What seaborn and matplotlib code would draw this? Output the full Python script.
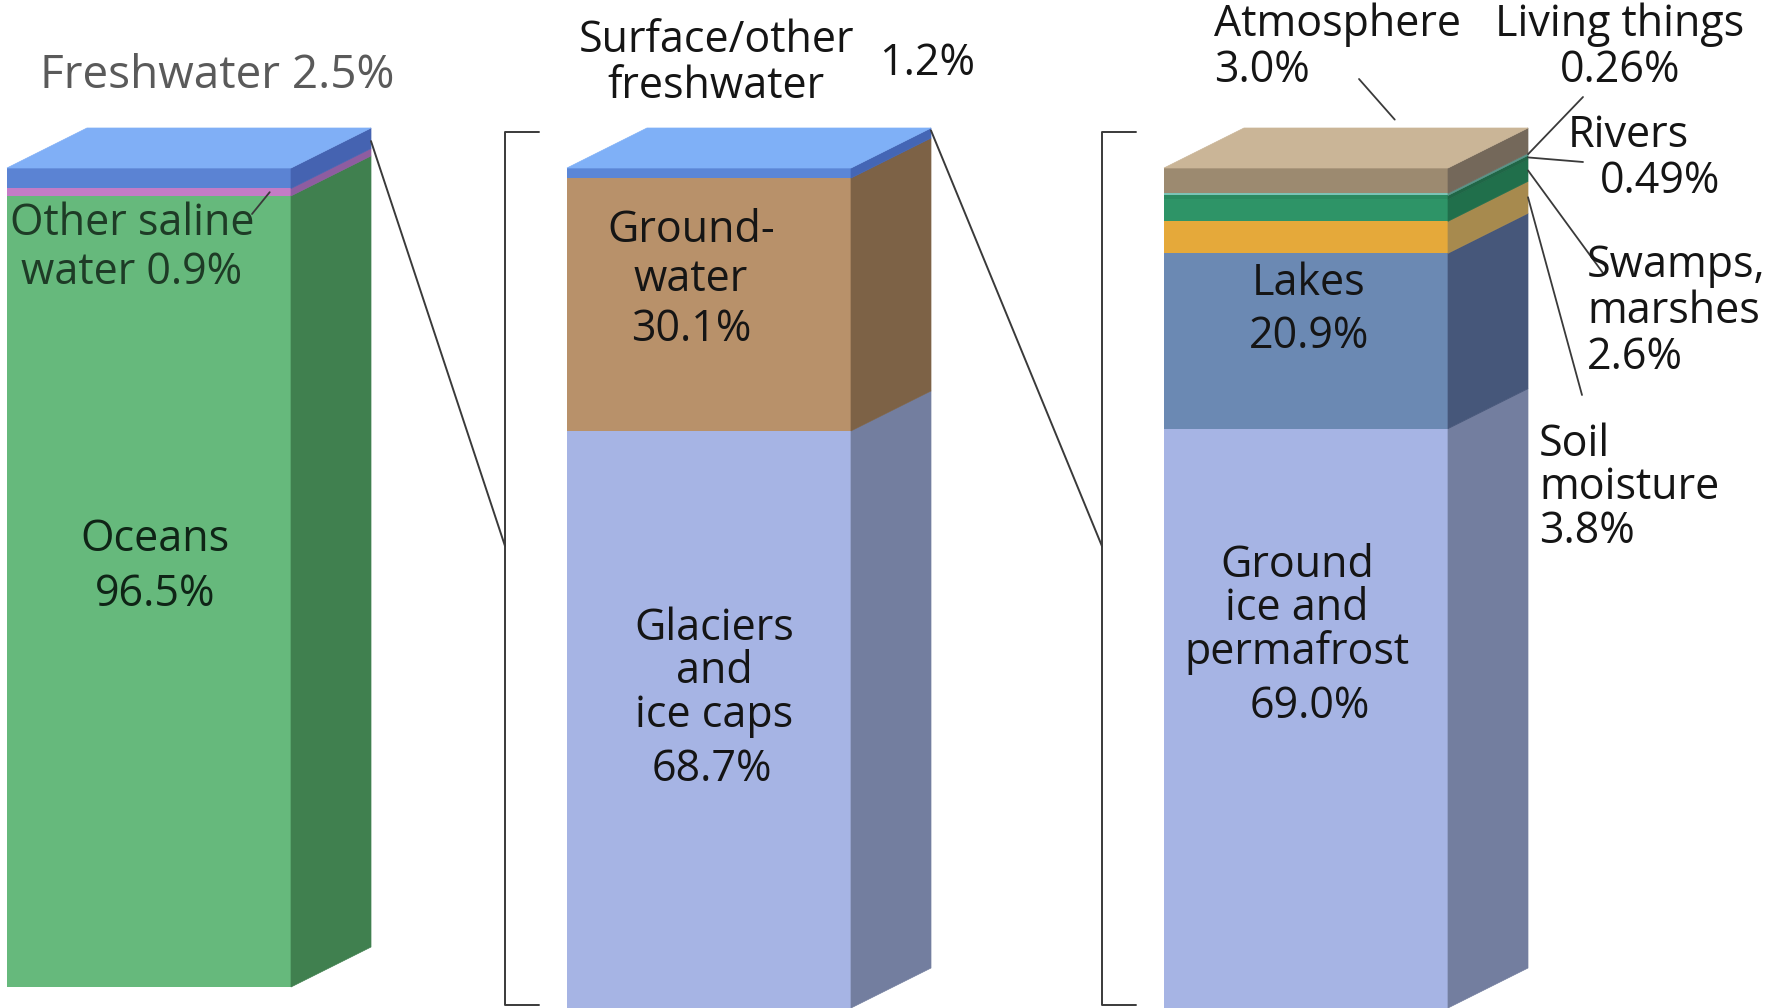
import pandas as pd
import seaborn as sns
import matplotlib
matplotlib.use('Agg')
import matplotlib.pyplot as plt
from matplotlib.patches import ConnectionPatch

W, H = 1769, 1008

# each block listed from the bottom of the column to the top
earth_parts = ["Oceans", "Other saline water", "Freshwater"]
earth_pct = [96.5, 0.9, 2.5]
earth_front = ["#66b97c", "#c47cc6", "#5b83d3"]
earth_side = ["#40804f", "#8e5da0", "#4563b1"]
earth_top = "#80aff6"

fresh_parts = ["Glaciers and ice caps", "Groundwater", "Surface/other freshwater"]
fresh_pct = [68.7, 30.1, 1.2]
fresh_front = ["#a6b4e4", "#b8916a", "#5b86d6"]
fresh_side = ["#737e9f", "#7d6246", "#4466b5"]
fresh_top = "#7fb0f7"

surf_parts = ["Ground ice and permafrost", "Lakes", "Soil moisture", "Swamps, marshes",
              "Rivers", "Living things", "Atmosphere"]
surf_pct = [69.0, 20.9, 3.8, 2.6, 0.49, 0.26, 3.0]
surf_front = ["#a6b4e4", "#6b89b3", "#e5a93a", "#2e9467", "#2a8a60", "#7bc4b6", "#9c8a70"]
surf_side = ["#737e9f", "#46577a", "#a78a4e", "#206f4b", "#1f6646", "#5a9488", "#74685a"]
surf_top = "#cab597"

BAR_W = 0.8
FRONT_PX, DEPTH_X, DEPTH_Y = 284, 80, 40
DX = BAR_W * DEPTH_X / FRONT_PX

sns.set_style("white")
plt.rcParams['font.family'] = ['Open Sans', 'DejaVu Sans']

fig = plt.figure(figsize=(W / 100, H / 100), dpi=100)


def make_ax(left, top, bottom):
    return fig.add_axes([left / W, 1 - bottom / H, (FRONT_PX + DEPTH_X) / W, (bottom - top) / H])


def draw_block(ax, name, parts, pct, front, side, top, front_h):
    df = pd.DataFrame({"block": name, "part": parts, "pct": pct, "side": side})
    df["cum"] = df["pct"].cumsum()
    df["base"] = df["cum"] - df["pct"]
    total = df["cum"].iloc[-1]
    dy = DEPTH_Y * total / front_h
    order = df.sort_values("cum", ascending=False)
    sns.barplot(data=order, x="block", y="cum", hue="part", hue_order=list(order["part"]),
                palette=dict(zip(parts, front)), dodge=False, width=BAR_W, saturation=1,
                linewidth=0, legend=False, ax=ax)
    x1 = BAR_W / 2
    for _, r in df.iterrows():
        ax.fill([x1, x1 + DX, x1 + DX, x1], [r.base, r.base + dy, r.cum + dy, r.cum],
                facecolor=r.side, edgecolor=r.side, lw=0.5, clip_on=False)
    ax.fill([-x1, -x1 + DX, x1 + DX, x1], [total, total + dy, total + dy, total],
            facecolor=top, edgecolor=top, lw=0.5, clip_on=False)
    ax.set_xlim(-x1, x1 + DX)
    ax.set_ylim(0, total + dy)
    ax.axis("off")
    return df, total, dy


ax1 = make_ax(7, 128, 987)
ax2 = make_ax(567, 128, 1008)
ax3 = make_ax(1164, 128, 1008)
df1, tot1, dy1 = draw_block(ax1, "Earth", earth_parts, earth_pct, earth_front, earth_side, earth_top, 819)
df2, tot2, dy2 = draw_block(ax2, "Fresh", fresh_parts, fresh_pct, fresh_front, fresh_side, fresh_top, 840)
df3, tot3, dy3 = draw_block(ax3, "Surface", surf_parts, surf_pct, surf_front, surf_side, surf_top, 840)

line_c = "#3a3a3a"
bx = -BAR_W / 2 - BAR_W * 62 / FRONT_PX
tick = BAR_W * 34 / FRONT_PX
for ax, tot, dy in [(ax2, tot2, dy2), (ax3, tot3, dy3)]:
    ax.plot([bx + tick, bx, bx, bx + tick], [tot + dy * 0.9, tot + dy * 0.9, 0.4, 0.4],
            color=line_c, lw=1.4, clip_on=False)

corner = BAR_W / 2 + DX
for axa, axb, ya in [(ax1, ax2, tot1 + dy1 - 1.6), (ax2, ax3, tot2 + dy2 - 0.3)]:
    fig.add_artist(ConnectionPatch(xyA=(corner, ya), coordsA=axa.transData,
                                   xyB=(bx, 55), coordsB=axb.transData, color=line_c, lw=1.4))


def leader(ax, xy, px, py):
    fig.add_artist(ConnectionPatch(xyA=xy, coordsA=ax.transData, xyB=(px, H - py),
                                   coordsB="figure pixels", color=line_c, lw=1.3))


s3 = df3.set_index("part")
mid = lambda p: (s3.loc[p, "base"] + s3.loc[p, "cum"]) / 2 + dy3
leader(ax3, (corner, mid("Living things")), 1583, 97)
leader(ax3, (corner, mid("Rivers")), 1583, 162)
leader(ax3, (corner, mid("Swamps, marshes")), 1603, 273)
leader(ax3, (corner, mid("Soil moisture")), 1582, 395)
leader(ax3, (0.25, tot3 + dy3 + 1.0), 1359, 79)
s1 = df1.set_index("part")
leader(ax1, (0.34, (s1.loc["Other saline water", "base"] + s1.loc["Other saline water", "cum"]) / 2), 252, 214)


def label(x, y, s, ha="center", size=31, color="#151515", ls=1.1):
    fig.text(x / W, 1 - y / H, s, ha=ha, va="center", fontsize=size, color=color,
             linespacing=ls, multialignment=ha)


label(217, 76, "Freshwater 2.5%", size=33, color="#5a5a5a")
label(132, 248, "Other saline\nwater 0.9%", color="#1e3b26", ls=1.12)
label(155, 567, "Oceans\n96.5%", color="#0f2416", ls=1.3)
label(716, 64, "Surface/other\nfreshwater", ls=1.03)
label(927, 64, "1.2%")
label(691, 280, "Ground-\nwater\n30.1%", ls=1.15)
label(714, 672, "Glaciers\nand\nice caps", ls=0.97)
label(712, 770, "68.7%")
label(1214, 48, "Atmosphere\n3.0%", ha="left", ls=1.05)
label(1620, 48, "Living things\n0.26%", ls=1.05)
label(1568, 136, "Rivers", ha="left")
label(1600, 182, "0.49%", ha="left")
label(1587, 312, "Swamps,\nmarshes\n2.6%", ha="left", ls=1.05)
label(1539, 488, "Soil\nmoisture\n3.8%", ha="left", ls=0.97)
label(1309, 310, "Lakes\n20.9%", ls=1.25)
label(1297, 609, "Ground\nice and\npermafrost", ls=0.97)
label(1310, 707, "69.0%")

fig.savefig("out.png", dpi=100)
